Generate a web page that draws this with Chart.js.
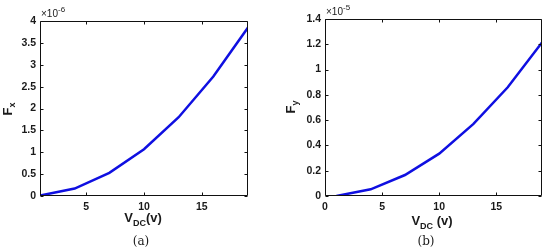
<!DOCTYPE html>
<html>
<head>
<meta charset="utf-8">
<script src="https://cdn.jsdelivr.net/npm/chart.js@4/dist/chart.umd.min.js"></script>
<style>
  html, body { margin: 0; padding: 0; background: #fff; }
  #wrap { position: relative; width: 550px; height: 252px; }
  .panel { position: absolute; top: 0; width: 275px; height: 252px; }
</style>
</head>
<body>
<div id="wrap">
  <div class="panel" style="left:0"><canvas id="chartA" width="275" height="252"></canvas></div>
  <div class="panel" style="left:275px"><canvas id="chartB" width="275" height="252"></canvas></div>
</div>
<script>
// Tensión DC (V), común a los dos paneles
const vdc = [1, 4, 7, 10, 13, 16, 19];
// Fx en unidades de 1e-6
const fx = [0.01, 0.17, 0.53, 1.07, 1.80, 2.73, 3.85];
// Fy en unidades de 1e-5
const fy = [0.0, 0.053, 0.166, 0.335, 0.57, 0.86, 1.215];

const xTicksA = [5, 10, 15];
const xTicksB = [0, 5, 10, 15];
const yTicksA = [0, 0.5, 1, 1.5, 2, 2.5, 3, 3.5, 4];
const yTicksB = [0, 0.2, 0.4, 0.6, 0.8, 1, 1.2, 1.4];

const FONT = "'Liberation Sans', Arial, sans-serif";
const SERIF = "'DejaVu Serif', 'Liberation Serif', serif";

// dibuja texto con subíndice / superíndice, devuelve ancho
function drawRich(ctx, parts, x, y, measureOnly) {
  let w = 0;
  parts.forEach(p => {
    ctx.font = p.font;
    if (!measureOnly) ctx.fillText(p.t, x + w, y + (p.dy || 0));
    w += ctx.measureText(p.t).width;
  });
  return w;
}

function decorPlugin(cfg) {
  return {
    id: 'decor',
    afterDraw(chart) {
      const ctx = chart.ctx;
      const a = chart.chartArea;
      const x = chart.scales.x, y = chart.scales.y;
      ctx.save();
      ctx.setLineDash([]);
      ctx.globalAlpha = 1;
      ctx.strokeStyle = '#111';
      ctx.lineWidth = 1;
      const L = Math.round(a.left) + 0.5, R = Math.round(a.right) - 0.5;
      const T = Math.round(a.top) + 0.5, B = Math.round(a.bottom) - 0.5;
      ctx.beginPath();
      ctx.moveTo(L, T); ctx.lineTo(R, T); ctx.lineTo(R, B); ctx.lineTo(L, B); ctx.closePath();
      // marcas hacia adentro (estilo MATLAB)
      x.ticks.forEach(t => {
        const px = Math.round(x.getPixelForValue(t.value)) + 0.5;
        ctx.moveTo(px, B); ctx.lineTo(px, B - 3);
        ctx.moveTo(px, T); ctx.lineTo(px, T + 3);
      });
      y.ticks.forEach(t => {
        const py = Math.round(y.getPixelForValue(t.value)) + 0.5;
        ctx.moveTo(L, py); ctx.lineTo(L + 3, py);
        ctx.moveTo(R, py); ctx.lineTo(R - 3, py);
      });
      ctx.stroke();

      ctx.fillStyle = '#1a1a1a';
      ctx.textBaseline = 'alphabetic';
      ctx.textAlign = 'left';

      // título eje x
      const xParts = [
        { t: 'V', font: 'bold 13px ' + FONT },
        { t: 'DC', font: 'bold 9px ' + FONT, dy: 4 },
        { t: cfg.xUnit, font: 'bold 13px ' + FONT }
      ];
      const xw = drawRich(ctx, xParts, 0, 0, true);
      drawRich(ctx, xParts, cfg.xTitleX - xw / 2, cfg.xTitleY);

      // título eje y (rotado)
      ctx.save();
      ctx.translate(cfg.yTitleX, cfg.yTitleY);
      ctx.rotate(-Math.PI / 2);
      const yParts = [
        { t: 'F', font: 'bold 13px ' + FONT },
        { t: cfg.ySub, font: 'bold 9px ' + FONT, dy: 3 }
      ];
      const yw = drawRich(ctx, yParts, 0, 0, true);
      drawRich(ctx, yParts, -yw / 2, 0);
      ctx.restore();

      // exponente
      drawRich(ctx, [
        { t: '\u00d710', font: '10px ' + FONT },
        { t: cfg.exp, font: '8px ' + FONT, dy: -5 }
      ], a.left + 1, a.top - 4);

      // etiqueta del panel
      ctx.font = '12px ' + SERIF;
      ctx.textAlign = 'center';
      ctx.fillText(cfg.panel, cfg.panelX, 245);
      ctx.restore();
    }
  };
}

function makeChart(id, values, cfg) {
  return new Chart(document.getElementById(id), {
    type: 'line',
    data: {
      datasets: [{
        data: vdc.map((v, i) => ({ x: v, y: values[i] })),
        borderColor: 'rgb(15, 15, 225)',
        borderWidth: 2.5,
        pointRadius: 0,
        tension: 0,
        fill: false
      }]
    },
    options: {
      responsive: false,
      animation: false,
      events: [],
      layout: { padding: cfg.padding },
      plugins: { legend: { display: false }, tooltip: { enabled: false } },
      scales: {
        x: {
          type: 'linear',
          min: cfg.xMin, max: 19,
          grid: { display: false, drawTicks: false },
          border: { display: false },
          afterBuildTicks: s => { s.ticks = cfg.xTicks.map(v => ({ value: v })); },
          afterFit: s => { s.height = cfg.xAxisH; },
          ticks: {
            color: '#1a1a1a', padding: 5,
            font: { family: FONT, size: 10.5, weight: 'bold' },
            maxRotation: 0
          }
        },
        y: {
          type: 'linear',
          min: 0, max: cfg.yMax,
          grid: { display: false, drawTicks: false },
          border: { display: false },
          afterBuildTicks: s => { s.ticks = cfg.yTicks.map(v => ({ value: v })); },
          afterFit: s => { s.width = cfg.yAxisW; },
          ticks: {
            color: '#1a1a1a', padding: 4,
            font: { family: FONT, size: 10.5, weight: 'bold' },
            callback: v => String(+v.toFixed(2))
          }
        }
      }
    },
    plugins: [decorPlugin(cfg)]
  });
}

makeChart('chartA', fx, {
  padding: { left: 0, top: 21, right: 27, bottom: 0 },
  yAxisW: 40, xAxisH: 56,
  xMin: 1, xTicks: xTicksA, yMax: 4, yTicks: yTicksA,
  xUnit: '(v)', ySub: 'x', exp: '-6', panel: '(a)',
  xTitleX: 143, xTitleY: 222, yTitleX: 12, yTitleY: 109, panelX: 141
});

makeChart('chartB', fy, {
  padding: { left: 0, top: 19, right: 8, bottom: 0 },
  yAxisW: 50, xAxisH: 56,
  xMin: 0, xTicks: xTicksB, yMax: 1.4, yTicks: yTicksB,
  xUnit: ' (v)', ySub: 'y', exp: '-5', panel: '(b)',
  xTitleX: 157, xTitleY: 225, yTitleX: 20, yTitleY: 107, panelX: 151
});
</script>
</body>
</html>
